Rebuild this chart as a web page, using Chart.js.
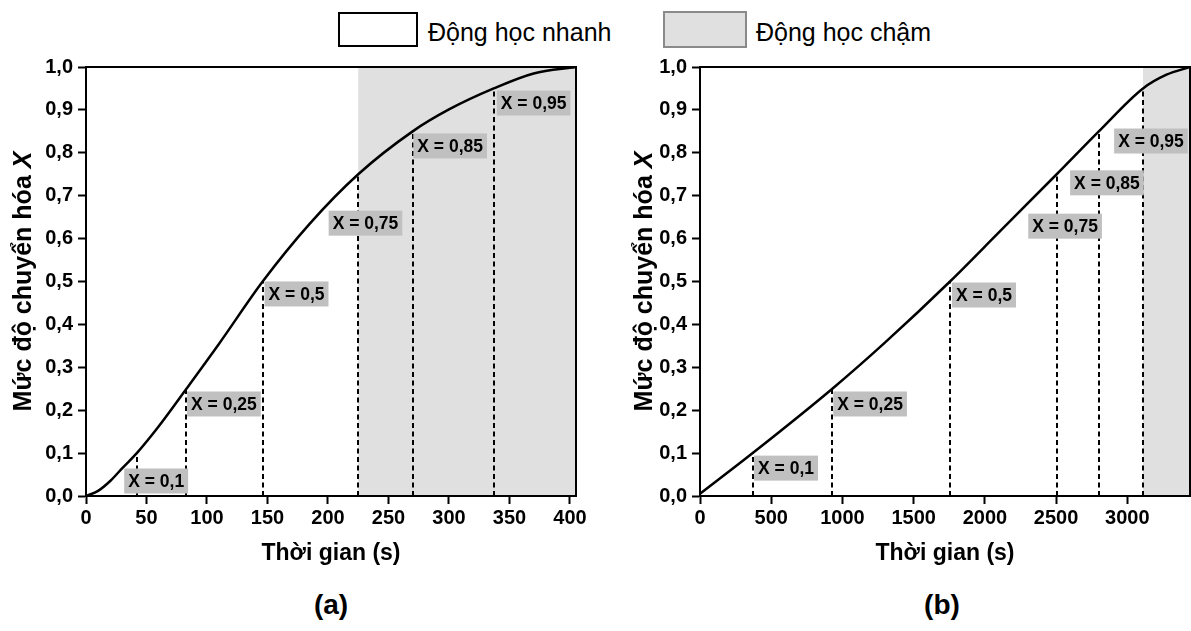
<!DOCTYPE html>
<html>
<head>
<meta charset="utf-8">
<script src="https://cdn.jsdelivr.net/npm/chart.js@4/dist/chart.umd.min.js"></script>
<style>
  body { margin: 0; background: #fff; font-family: "Liberation Sans", Arial, sans-serif; }
  #wrap { position: relative; width: 1191px; height: 631px; overflow: hidden; }
  canvas { position: absolute; top: 0; }
  .key { position: absolute; box-sizing: border-box; }
  .keytext { position: absolute; font-size: 25px; line-height: 25px; color: #000; white-space: nowrap; }
  .panel { position: absolute; width: 100px; text-align: center; font-weight: bold; font-size: 28px; line-height: 28px; }
</style>
</head>
<body>
<div id="wrap">
  <div class="key" style="left:338px;top:12px;width:80px;height:35px;border:2px solid #000;background:#fff"></div>
  <div class="keytext" style="left:428px;top:20px">Động học nhanh</div>
  <div class="key" style="left:663px;top:11px;width:84px;height:37px;border:2px solid #8a8a8a;background:#e0e0e0"></div>
  <div class="keytext" style="left:756px;top:20px">Động học chậm</div>

  <canvas id="chartA" width="600" height="575" style="left:0"></canvas>
  <canvas id="chartB" width="591" height="575" style="left:600px"></canvas>

  <div class="panel" style="left:281px;top:591px">(a)</div>
  <div class="panel" style="left:892px;top:591px">(b)</div>
</div>
<script>
// (a) fast kinetics: conversion vs time
const timeA = [0, 10, 20, 30, 42, 60, 83, 110, 146, 185, 225, 270, 300, 337, 370, 405];
const convA = [0, 0.012, 0.035, 0.065, 0.1, 0.162, 0.25, 0.355, 0.5, 0.635, 0.75, 0.85, 0.901, 0.95, 0.985, 1.0];

// (b) slow kinetics: conversion vs time
const timeB = [0, 370, 929, 1300, 1755, 2100, 2504, 2800, 3110, 3275, 3440];
const convB = [0.005, 0.1, 0.25, 0.358, 0.5, 0.615, 0.75, 0.85, 0.95, 0.982, 1.0];

// x axis tick labels
const ticksA = [0, 50, 100, 150, 200, 250, 300, 350, 400];
const ticksB = [0, 500, 1000, 1500, 2000, 2500, 3000];

// conversion levels marked with dashed drop lines
const markX = [0.1, 0.25, 0.5, 0.75, 0.85, 0.95];
const markTimeA = [42, 83, 146, 225, 270, 337];
const markTimeB = [370, 929, 1755, 2504, 2800, 3110];

// where each label box is centred (time, conversion)
const labelTimeA = [58, 114, 174, 231, 301, 370];
const labelConvA = [0.035, 0.2145, 0.471, 0.636, 0.816, 0.916];
const labelTimeB = [604, 1194, 1994, 2563, 2857, 3166];
const labelConvB = [0.065, 0.2145, 0.4685, 0.629, 0.73, 0.8275];

// start of the slow-kinetics (shaded) zone
const slowStartA = 225;
const slowStartB = 3110;

const yTicks = v => v.toFixed(1).replace('.', ',');
const FONT = '"Liberation Sans", Arial, sans-serif';
Chart.defaults.font.family = FONT;
Chart.defaults.color = '#000';

const markers = {
  id: 'markers',
  beforeDatasetsDraw(chart) {
    const { ctx, chartArea: a, scales: { x, y } } = chart;
    const m = chart.options.plugins.markers;
    ctx.save();
    const sx = x.getPixelForValue(m.slowStart);
    ctx.fillStyle = '#e0e0e0';
    ctx.fillRect(sx, a.top, a.right - sx, a.bottom - a.top);

    ctx.strokeStyle = '#000';
    ctx.lineWidth = 2;
    ctx.setLineDash([5, 3.5]);
    m.times.forEach((t, i) => {
      const px = Math.round(x.getPixelForValue(t));
      ctx.beginPath();
      ctx.moveTo(px, y.getPixelForValue(0));
      ctx.lineTo(px, y.getPixelForValue(markX[i]));
      ctx.stroke();
    });
    ctx.restore();
  },
  afterDatasetsDraw(chart) {
    const { ctx, scales: { x, y } } = chart;
    const m = chart.options.plugins.markers;
    ctx.save();
    ctx.font = 'bold 17.5px ' + FONT;
    ctx.textAlign = 'center';
    ctx.textBaseline = 'middle';
    markX.forEach((v, i) => {
      const text = 'X = ' + String(v).replace('.', ',');
      const cx = x.getPixelForValue(m.labelTimes[i]);
      const cy = y.getPixelForValue(m.labelConvs[i]);
      const w = ctx.measureText(text).width + 8;
      ctx.fillStyle = '#c0c0c0';
      ctx.fillRect(cx - w / 2, cy - 12.5, w, 25);
      ctx.fillStyle = '#000';
      ctx.fillText(text, cx, cy + 1);
    });
    ctx.restore();
  },
  afterDraw(chart) {
    const { ctx, chartArea: a } = chart;
    ctx.save();
    ctx.strokeStyle = '#000';
    ctx.lineWidth = 2;
    ctx.strokeRect(a.left, a.top, a.right - a.left, a.bottom - a.top);

    // y axis title, with an italic X
    const part1 = 'Mức độ chuyển hóa ';
    const part2 = 'X';
    ctx.translate(chart.options.plugins.markers.titleX, (a.top + a.bottom) / 2);
    ctx.rotate(-Math.PI / 2);
    ctx.textBaseline = 'middle';
    ctx.font = 'bold 25px ' + FONT;
    const w1 = ctx.measureText(part1).width;
    ctx.font = 'italic bold 25px ' + FONT;
    const w2 = ctx.measureText(part2).width;
    const sx = -(w1 + w2) / 2;
    ctx.fillStyle = '#000';
    ctx.font = 'bold 25px ' + FONT;
    ctx.fillText(part1, sx, 0);
    ctx.font = 'italic bold 25px ' + FONT;
    ctx.fillText(part2, sx + w1, 0);
    ctx.restore();
  }
};

function buildChart(id, times, convs, o) {
  return new Chart(document.getElementById(id), {
    type: 'scatter',
    data: {
      datasets: [{
        data: times.map((t, i) => ({ x: t, y: convs[i] })),
        showLine: true,
        borderColor: '#000',
        borderWidth: 2.5,
        pointRadius: 0,
        cubicInterpolationMode: 'monotone'
      }]
    },
    options: {
      responsive: false,
      animation: false,
      events: [],
      layout: { padding: { top: 67, right: o.padRight, bottom: 0, left: 0 } },
      plugins: {
        legend: { display: false },
        tooltip: { enabled: false },
        markers: {
          slowStart: o.slowStart,
          times: o.markTimes,
          labelTimes: o.labelTimes,
          labelConvs: o.labelConvs,
          titleX: o.titleX
        }
      },
      scales: {
        x: {
          type: 'linear',
          min: 0,
          max: o.xMax,
          afterFit(s) { s.height = 79; },
          afterBuildTicks(s) { s.ticks = o.xTicks.map(v => ({ value: v })); },
          border: { color: '#000', width: 2 },
          grid: { drawOnChartArea: false, tickLength: 8, tickColor: '#000', tickWidth: 2 },
          ticks: { autoSkip: false, maxRotation: 0, padding: 2, callback: v => String(v),
                   font: { size: 20, weight: 'bold' } },
          title: { display: true, text: 'Thời gian (s)', font: { size: 23, weight: 'bold' },
                   padding: { top: 0, bottom: 8 } }
        },
        y: {
          min: 0,
          max: 1,
          afterFit(s) { s.width = o.yWidth; },
          border: { color: '#000', width: 2 },
          grid: { drawOnChartArea: false, tickLength: 8, tickColor: '#000', tickWidth: 2 },
          ticks: { stepSize: 0.1, autoSkip: false, padding: 5, callback: yTicks,
                   font: { size: 20, weight: 'bold' } }
        }
      }
    },
    plugins: [markers]
  });
}

buildChart('chartA', timeA, convA, {
  xMax: 405, xTicks: ticksA, yWidth: 86, padRight: 24, titleX: 24,
  slowStart: slowStartA, markTimes: markTimeA, labelTimes: labelTimeA, labelConvs: labelConvA
});
buildChart('chartB', timeB, convB, {
  xMax: 3440, xTicks: ticksB, yWidth: 100, padRight: 1, titleX: 45,
  slowStart: slowStartB, markTimes: markTimeB, labelTimes: labelTimeB, labelConvs: labelConvB
});
</script>
</body>
</html>
